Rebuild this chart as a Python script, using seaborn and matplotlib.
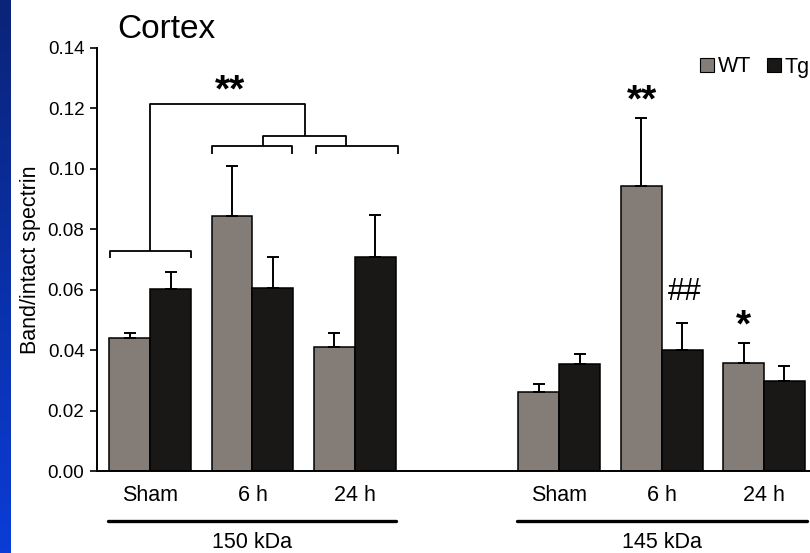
import numpy as np
import pandas as pd
import seaborn as sns
import matplotlib.pyplot as plt
from matplotlib.colors import LinearSegmentedColormap

# data
times = ['Sham', '6 h', '24 h']
bands = ['150 kDa', '145 kDa']
genotypes = ['WT', 'Tg']

wt_150 = [0.0440, 0.0844, 0.0410]
wt_150_err = [0.0017, 0.0165, 0.0047]
tg_150 = [0.0602, 0.0606, 0.0708]
tg_150_err = [0.0057, 0.0102, 0.0139]

wt_145 = [0.0261, 0.0943, 0.0357]
wt_145_err = [0.0027, 0.0225, 0.0067]
tg_145 = [0.0354, 0.0400, 0.0298]
tg_145_err = [0.0033, 0.0090, 0.0050]

yticks = [0.00, 0.02, 0.04, 0.06, 0.08, 0.10, 0.12, 0.14]

# significance brackets (x in category units, y in data units)
brackets = [
    # x0, x1, y, tip
    (-0.39, 0.40, 0.0728, 0.0705),
    (0.60, 1.39, 0.1076, 0.1049),
    (1.62, 2.42, 0.1076, 0.1049),
    (1.10, 1.91, 0.1109, 0.1076),
]
top_bracket = (0.0, 1.51, 0.1215, 0.0728, 0.1109)
marks = [('**', 0.78, 0.1255, 28), ('**', 4.81, 0.1222, 28),
         ('##', 5.23, 0.0592, 22), ('*', 5.80, 0.0478, 28)]

# build table
order = [f'{b} {t}' for b in bands[:1] for t in times] + ['gap'] + \
        [f'{b} {t}' for b in bands[1:] for t in times]
rows = []
for b, wt, wte, tg, tge in [(bands[0], wt_150, wt_150_err, tg_150, tg_150_err),
                            (bands[1], wt_145, wt_145_err, tg_145, tg_145_err)]:
    for i, t in enumerate(times):
        rows.append({'cond': f'{b} {t}', 'geno': 'WT', 'value': wt[i], 'err': wte[i]})
        rows.append({'cond': f'{b} {t}', 'geno': 'Tg', 'value': tg[i], 'err': tge[i]})
df = pd.DataFrame(rows)

sns.set_style('white')
plt.rcParams['font.family'] = ['Liberation Sans', 'DejaVu Sans']
plt.rcParams['text.color'] = 'black'
plt.rcParams['axes.labelcolor'] = 'black'
plt.rcParams['xtick.color'] = 'black'
plt.rcParams['ytick.color'] = 'black'

fig = plt.figure(figsize=(8.1, 5.53), dpi=100)
ax = fig.add_axes([97/810, 82/553, 713/810, 423/553])

sns.barplot(data=df, x='cond', y='value', hue='geno', order=order,
            hue_order=genotypes, palette={'WT': '#847c77', 'Tg': '#1a1816'},
            errorbar=None, width=0.8, edgecolor='black', linewidth=1.1,
            saturation=1, ax=ax)

# one-sided error bars
for _, r in df.iterrows():
    x = order.index(r['cond']) + (-0.2 if r['geno'] == 'WT' else 0.2)
    ax.errorbar(x, r['value'], yerr=[[0], [r['err']]], fmt='none',
                ecolor='black', elinewidth=1.4, capsize=4, capthick=1.4)

ax.set_xlim(-0.52, 6.45)
ax.set_ylim(0, 0.14)
ax.set_yticks(yticks)
ax.set_yticklabels([f'{v:.2f}' for v in yticks], fontsize=13.5)
pos = [order.index(c) for c in order if c != 'gap']
ax.set_xticks(pos)
ax.set_xticklabels(times * 2, fontsize=15.5)
ax.tick_params(axis='x', length=0, pad=10)
ax.tick_params(axis='y', direction='out', length=5, width=1.2, left=True, pad=4)
ax.set_xlabel('')
ax.set_ylabel('Band/intact spectrin', fontsize=15.5, labelpad=5)
sns.despine(ax=ax, top=True, right=True)
for s in ['left', 'bottom']:
    ax.spines[s].set_color('black')
    ax.spines[s].set_linewidth(1.4)

# brackets
bk = dict(color='black', lw=1.3, solid_capstyle='butt')
for x0, x1, y, tip in brackets:
    ax.plot([x0, x0, x1, x1], [tip, y, y, tip], **bk)
x0, x1, y, l0, l1 = top_bracket
ax.plot([x0, x0, x1, x1], [l0, y, y, l1], **bk)
for s, x, y, fs in marks:
    ax.text(x, y, s, ha='center', va='center', fontsize=fs,
            fontweight='bold' if '*' in s else 'normal')

# band group lines and labels
trans = ax.get_xaxis_transform()
for b, (x0, x1) in zip(bands, [(-0.41, 2.40), (3.59, 6.42)]):
    ax.plot([x0, x1], [-0.118, -0.118], color='black', lw=2.4,
            transform=trans, clip_on=False)
    ax.text((x0 + x1) / 2, -0.168, b, ha='center', va='center',
            fontsize=15.5, transform=trans)

# legend
ax.legend(loc='center right', bbox_to_anchor=(1.0, (471 - 67) / 423),
          ncol=2, frameon=False, fontsize=15.5, handlelength=0.65,
          handleheight=0.65, handletextpad=0.2, columnspacing=0.7,
          borderaxespad=0, borderpad=0)
for h in ax.get_legend().legend_handles:
    h.set_edgecolor('black')
    h.set_linewidth(0.8)

fig.text(117/810, 1 - 38/553, 'Cortex', fontsize=24, va='baseline')

# blue strip on the left
bx = fig.add_axes([0, 0, 11/810, 1])
cmap = LinearSegmentedColormap.from_list('strip', ['#0a2478', '#0b3cd6'])
bx.imshow(np.linspace(0, 1, 100).reshape(-1, 1), aspect='auto', cmap=cmap)
bx.axis('off')

fig.savefig('out.png', dpi=100)
